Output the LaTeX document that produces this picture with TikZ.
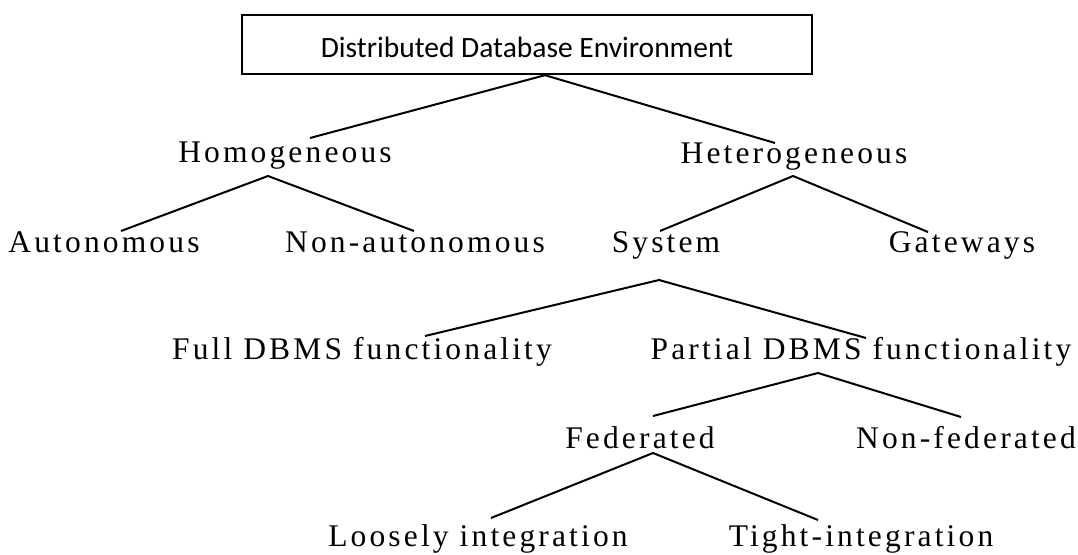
\documentclass[tikz,border=0pt]{standalone}
\usepackage{fontspec}
\newfontfamily\treefont{Liberation Serif}[LetterSpace=10]
\newfontfamily\rootfont{Carlito}
\begin{document}
\begin{tikzpicture}[x=1pt,y=1pt,
  lbl/.style={anchor=base, inner sep=0pt, font=\treefont\fontsize{31.5}{34}\selectfont},
  edge/.style={line width=2pt},
  rootbox/.style={draw, line width=2.4pt, minimum width=570pt, minimum height=59pt,
    inner sep=0pt, text height=25pt, text depth=0pt,
    font=\rootfont\fontsize{29.5}{32}\selectfont}]
\fill[white] (0,0) rectangle (1078,-554);
\useasboundingbox (0,0) rectangle (1078,-554);

% root box
\node[rootbox] (root) at (527,-44.5) {Distributed Database Environment};

% tree labels (placed by baseline)
\node[lbl] (homo)    at (285,-162) {Homogeneous};
\node[lbl] (hetero)  at (794,-163) {Heterogeneous};
\node[lbl] (auto)    at (104,-252) {Autonomous};
\node[lbl] (nonauto) at (415,-252) {Non-autonomous};
\node[lbl] (system)  at (666,-252) {System};
\node[lbl] (gate)    at (962,-252) {Gateways};
\node[lbl] (full)    at (362,-359) {Full DBMS functionality};
\node[lbl] (partial) at (861,-359) {Partial DBMS functionality};
\node[lbl] (fed)     at (640,-448) {Federated};
\node[lbl] (nonfed)  at (966,-448) {Non-federated};
\node[lbl] (loose)   at (478,-546) {Loosely integration};
\node[lbl] (tight)   at (861,-546) {Tight-integration};

% branches
\draw[edge] ([shift={(25pt,24pt)}]homo.base) -- ([xshift=18pt]root.south) -- ([shift={(-19pt,20pt)}]hetero.base);
\draw[edge] ([shift={(17pt,21pt)}]auto.base) -- ([shift={(-17pt,-14pt)}]homo.base) -- ([shift={(-1pt,21pt)}]nonauto.base);
\draw[edge] ([shift={(-6pt,21pt)}]system.base) -- ([shift={(-1pt,-13pt)}]hetero.base) -- ([shift={(-34pt,20pt)}]gate.base);
\draw[edge] ([shift={(63pt,23pt)}]full.base) -- ([shift={(-7pt,-28pt)}]system.base) -- ([shift={(5pt,21pt)}]partial.base);
\draw[edge] ([shift={(13pt,32pt)}]fed.base) -- ([shift={(-43pt,-14pt)}]partial.base) -- ([shift={(-5pt,31pt)}]nonfed.base);
\draw[edge] ([shift={(13pt,28pt)}]loose.base) -- ([shift={(13pt,-5pt)}]fed.base) -- ([shift={(-43pt,26pt)}]tight.base);
\end{tikzpicture}
\end{document}
